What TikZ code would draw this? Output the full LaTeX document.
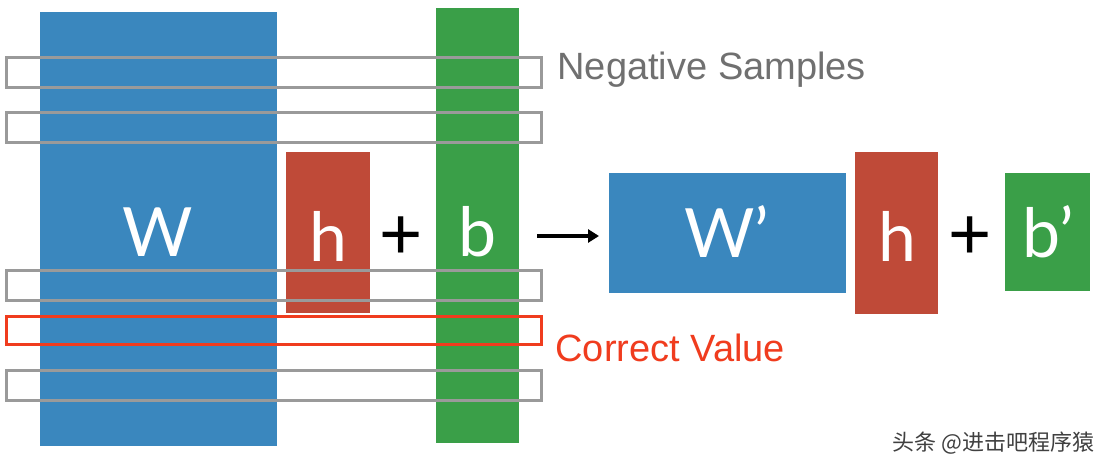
\documentclass[tikz,border=0pt]{standalone}
\usepackage{fontspec}
\usetikzlibrary{arrows.meta}
\setmainfont{Liberation Sans}
\newfontfamily\lato{Lato}
\newfontfamily\cjk{Noto Sans CJK SC}
\definecolor{cblue}{HTML}{3A87BE}
\definecolor{cred}{HTML}{BF4A38}
\definecolor{cgreen}{HTML}{3A9F48}
\definecolor{cgray}{HTML}{9A9A9A}
\definecolor{cline}{HTML}{F03C1E}
\definecolor{ctext}{HTML}{707070}
\begin{document}
\begin{tikzpicture}[x=1pt,y=-1pt,
  blk/.style={draw=none,inner sep=0,text=white,font=\lato\fontsize{68}{68}\selectfont},
  row/.style={draw=cgray,line width=3pt},
  sym/.style={font=\fontsize{74}{74}\selectfont}]
\useasboundingbox[fill=white] (0,0) rectangle (1108,473);
\fill[cblue] (40,12) rectangle (277,446);
\node[blk] (W) at (158,232) {W};
\fill[cred] (286,152) rectangle (370,313);
\node[blk] (h) at (328,236) {h};
\node[sym] (p1) at (401,238) {+};
\fill[cgreen] (436,8) rectangle (519,443);
\node[blk] (b) at (478,232) {b};
\draw[row] (6,58) rectangle (541,88);
\draw[row] (6,113) rectangle (541,143);
\draw[row] (6,270) rectangle (541,300);
\draw[row] (6,370) rectangle (541,400);
\draw[draw=cline,line width=3pt] (6,316) rectangle (541,344);
\node[anchor=west,text=ctext,font=\fontsize{38}{38}\selectfont] (ns) at (554,70) {Negative Samples};
\node[anchor=west,text=cline,font=\fontsize{38}{38}\selectfont] (cv) at (552,348) {Correct Value};
\coordinate (a1) at (537,236);
\coordinate (a2) at (599,236);
\draw[line width=3.5pt,-{Triangle[length=11pt,width=13pt]}] (a1) -- (a2);
\fill[cblue] (609,173) rectangle (846,293);
\node[blk] (W2) at (727,232) {W’};
\fill[cred] (855,152) rectangle (938,314);
\node[blk] (h2) at (897,236) {h};
\node[sym] (p2) at (970,238) {+};
\fill[cgreen] (1005,173) rectangle (1090,291);
\node[blk] (b2) at (1048,232) {b’};
\node[anchor=east,text=black!75,font=\cjk\fontsize{22}{22}\selectfont] (wm) at (1098,443) {头条 @进击吧程序猿};
\end{tikzpicture}
\end{document}
